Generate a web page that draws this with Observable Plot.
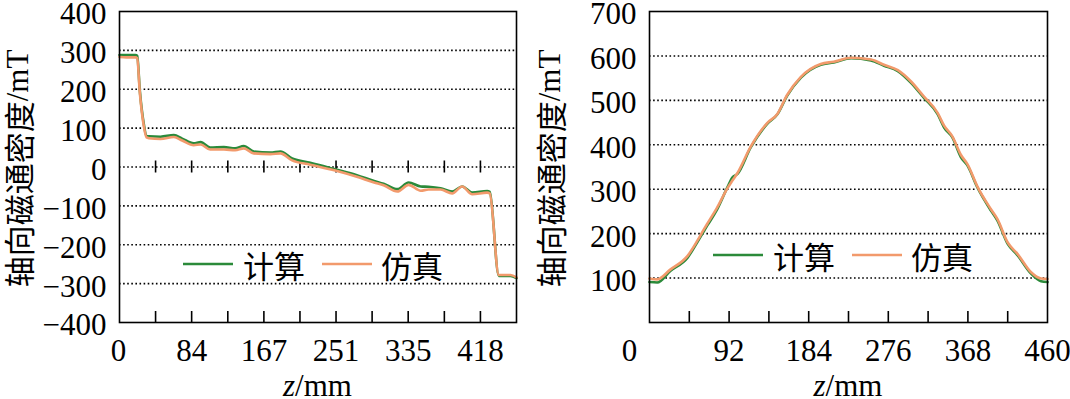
<!DOCTYPE html>
<html><head><meta charset="utf-8">
<script src="https://cdn.jsdelivr.net/npm/d3@7"></script>
<script src="https://cdn.jsdelivr.net/npm/@observablehq/plot@0.6"></script>
<style>
body{margin:0;background:#fff;}
#wrap{display:flex;width:1070px;height:399px;overflow:hidden;}
</style></head><body><div id="wrap"></div>
<script>
// ---------- data ----------
const seriesNames = ["计算", "仿真"];
const yTitleCJK = "轴向磁通密度";
const yTitleUnit = "/mT";
const xTitleItalic = "z";
const xTitleRest = "/mm";

// left panel
const leftZ    = [0, 8, 18.5, 20.5, 23.6, 28.2, 31.3, 34, 47.5, 63, 72.6, 86, 94, 105, 121, 134, 144, 155.6, 175, 186.5, 200, 221, 250, 275, 295, 306, 322, 335, 349, 358, 372, 385.5, 397, 408.7, 426, 429, 439.5, 453, 460];
const leftCalc = [288, 288, 288, 286, 195, 110, 80, 79, 78, 82, 73, 61, 64, 50, 51, 48, 54, 40, 37, 40, 22, 11, -6, -21, -36, -43, -57, -40, -50, -51, -55, -63, -50, -66, -62, -64, -280, -280, -286];
const leftSim  = [283, 282, 282, 280, 190, 105, 76, 74, 72, 77, 68, 56, 58, 45, 45, 43, 48, 35, 33, 35, 17, 6, -9, -25, -40, -47, -63, -46, -61, -58, -58, -68, -50, -70, -66, -68, -278, -278, -284];
const leftYTicks = [-400, -300, -200, -100, 0, 100, 200, 300, 400];
const leftYGrid = [-300, -200, -100, 0, 100, 200, 300];
const leftXTicks = [0, 83.6, 167.3, 250.9, 334.5, 418.2];
const leftXTickLabels = ["0", "84", "167", "251", "335", "418"];
const leftMinorTicks = [41.8, 83.6, 125.5, 167.3, 209.1, 250.9, 292.7, 334.5, 376.4, 418.2];

// right panel
const rightZ    = [0, 9, 24, 44, 55, 63, 67, 78, 90, 96, 101.5, 117, 136, 148, 159, 175, 198, 213, 233, 256, 271, 287, 302, 317, 333, 340.5, 350, 360, 367.6, 379, 394.6, 402, 414, 425.5, 441, 452.5, 460];
const rightCalc = [91, 90, 116, 146, 180, 206, 219, 254, 304, 327, 334, 394, 447, 469, 510, 551, 580, 585, 595, 590, 578, 566, 540, 506, 469, 439, 417, 372, 353, 304, 252, 230, 177, 151, 110, 93, 91];
const rightSim  = [99, 97, 119, 150, 183, 210, 223, 258, 302, 320, 336, 396, 449, 470, 512, 553, 582, 587, 596, 592, 580, 568, 543, 509, 472, 443, 419, 377, 356, 306, 255, 233, 180, 154, 113, 99, 98];
const rightYTicks = [100, 200, 300, 400, 500, 600, 700];
const rightYGrid = [100, 200, 300, 400, 500, 600];
const rightXTicks = [0, 92, 184, 276, 368, 460];
const rightXTickLabels = ["0", "92", "184", "276", "368", "460"];
const rightMinorTicks = [46, 92, 138, 184, 230, 276, 322, 368, 414];

// ---------- drawing ----------
const GREEN = "#2b8a3a", ORANGE = "#f29a6c";
const SERIF = "'Liberation Serif', 'Times New Roman', serif";
const CJK = "'Noto Sans CJK SC', sans-serif";
const H = 399, MT = 11, MB = 77;

function fmt(d) { return d < 0 ? "\u2212" + (-d) : String(d); }

function font(sel, fam, size) {
  sel.style("font-family", fam, "important").style("font-size", size + "px", "important");
}

function panel(o) {
  const data = o.z.map((z, i) => ({z, calc: o.calc[i], sim: o.sim[i]}));
  const innerH = H - MT - MB;
  const perPx = (o.yDomain[1] - o.yDomain[0]) / innerH;
  const labelMap = new Map(o.xTicks.map((t, i) => [t, o.xLabels[i]]));
  const marks = [
    Plot.ruleY(o.grid, {stroke: "black", strokeWidth: 1.6, strokeDasharray: "1.6,2.5"}),
    Plot.ruleX(o.minor, {y1: o.yDomain[0], y2: o.yDomain[0] + 11 * perPx, stroke: "black", strokeWidth: 1.6}),
  ];
  if (o.zeroTicks) marks.push(Plot.ruleX(o.minor, {y1: -6 * perPx, y2: 6 * perPx, stroke: "black", strokeWidth: 1.6}));
  marks.push(
    Plot.line(data, {x: "z", y: "calc", stroke: GREEN, strokeWidth: 2.6, curve: "monotone-x"}),
    Plot.line(data, {x: "z", y: "sim", stroke: ORANGE, strokeWidth: 2.6, curve: "monotone-x"}),
    Plot.frame({stroke: "black", strokeWidth: 1.6}),
    Plot.axisY({ticks: o.yTicks, tickSize: 0, tickPadding: 13, tickFormat: fmt, fontSize: 31, dy: 3, label: null}),
    Plot.axisX({ticks: o.xTicks.filter(t => t !== 0), tickSize: 0, tickPadding: 16, tickFormat: d => labelMap.get(d), fontSize: 31, label: null}),
    Plot.axisX({ticks: [0], tickSize: 0, tickPadding: 16, tickFormat: d => labelMap.get(d), fontSize: 31, dx: o.zeroDx, label: null})
  );
  const svg = Plot.plot({
    width: o.width, height: H,
    marginLeft: 119, marginRight: o.mr, marginTop: MT, marginBottom: MB,
    x: {domain: [0, 460], label: null},
    y: {domain: o.yDomain, label: null},
    style: {color: "black", background: "white", overflow: "visible"},
    marks
  });
  const s = d3.select(svg);
  font(s, SERIF, 31);
  s.selectAll("g").attr("font-variant", null);
  font(s.selectAll("text"), SERIF, 31);
  const cx = (119 + o.width - o.mr) / 2;
  const cy = (MT + H - MB) / 2;
  // x title
  const xt = s.append("text").attr("x", cx).attr("y", 396).attr("text-anchor", "middle").attr("fill", "black");
  font(xt, SERIF, 31);
  xt.append("tspan").style("font-style", "italic", "important").text(xTitleItalic);
  xt.append("tspan").text(xTitleRest);
  // y title
  const yt = s.append("text").attr("transform", `translate(${o.ylx},${cy + 2}) rotate(-90)`)
    .attr("text-anchor", "middle").attr("dominant-baseline", "central").attr("fill", "black");
  font(yt, SERIF, 31);
  font(yt.append("tspan").text(yTitleCJK), CJK, 31);
  font(yt.append("tspan").text(yTitleUnit), SERIF, 31);
  // legend
  const ly = o.legendY;
  const items = [{c: GREEN, x0: 183, tx: 243, name: seriesNames[0]}, {c: ORANGE, x0: 322, tx: 381, name: seriesNames[1]}];
  items.forEach(it => {
    s.append("line").attr("x1", it.x0).attr("x2", it.x0 + 50).attr("y1", ly).attr("y2", ly)
      .attr("stroke", it.c).attr("stroke-width", 2.6);
    const t = s.append("text").attr("x", it.tx).attr("y", ly).attr("text-anchor", "start").attr("dominant-baseline", "central")
      .attr("fill", "black").text(it.name);
    font(t, CJK, 31);
  });
  return svg;
}

const wrap = document.getElementById("wrap");
wrap.appendChild(panel({
  width: 530, mr: 14, yDomain: [-400, 400], yTicks: leftYTicks, grid: leftYGrid,
  xTicks: leftXTicks, xLabels: leftXTickLabels, minor: leftMinorTicks, zeroTicks: true,
  z: leftZ, calc: leftCalc, sim: leftSim, legendY: 264, zeroDx: -1, ylx: 17
}));
wrap.appendChild(panel({
  width: 540, mr: 23, yDomain: [0, 700], yTicks: rightYTicks, grid: rightYGrid,
  xTicks: rightXTicks, xLabels: rightXTickLabels, minor: rightMinorTicks, zeroTicks: false,
  z: rightZ, calc: rightCalc, sim: rightSim, legendY: 255, zeroDx: -20, ylx: 19
}));
</script></body></html>
